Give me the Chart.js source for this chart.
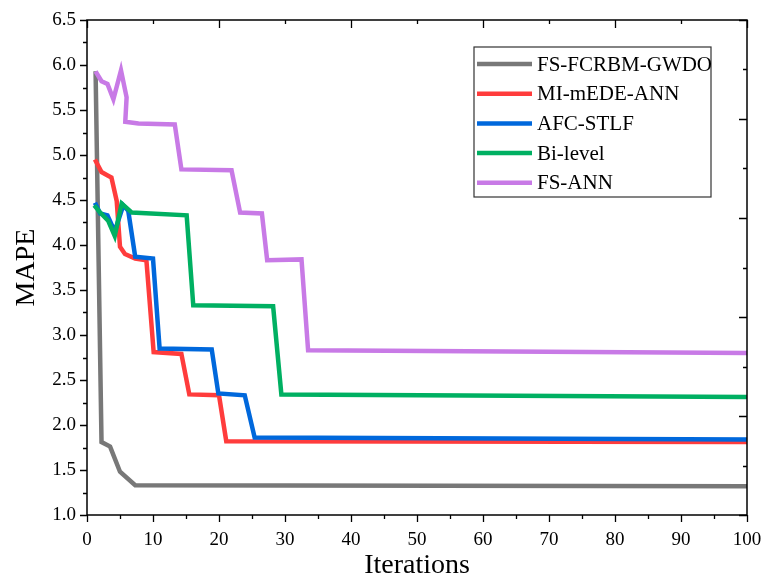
<!DOCTYPE html>
<html>
<head>
<meta charset="utf-8">
<script src="https://cdn.jsdelivr.net/npm/chart.js@4.4.1/dist/chart.umd.min.js"></script>
<style>
  html, body { margin: 0; padding: 0; background: #fff; }
  canvas { display: block; }
</style>
</head>
<body>
<canvas id="chart" width="763" height="580"></canvas>
<script>
// series names and colours, same order as the legend
const seriesNames = ['FS-FCRBM-GWDO', 'MI-mEDE-ANN', 'AFC-STLF', 'Bi-level', 'FS-ANN'];
const seriesColors = ['#787878', '#ff3c3c', '#0068dc', '#00b062', '#c87ae6'];

// values (iteration, MAPE)
const gwdoIter = [1.3, 2.2, 3.5, 5.0, 7.3, 100];
const gwdoMape = [5.93, 1.81, 1.76, 1.48, 1.33, 1.32];

const mEdeIter = [1.2, 2.2, 3.2, 3.7, 4.5, 5.0, 5.75, 7.3, 9.0, 10.1, 14.3, 15.5, 20.0, 21.1, 100];
const mEdeMape = [4.95, 4.81, 4.77, 4.75, 4.49, 3.98, 3.90, 3.85, 3.83, 2.81, 2.79, 2.34, 2.33, 1.82, 1.81];

const afcIter = [1.2, 2.0, 3.1, 4.2, 5.5, 6.25, 7.3, 10.0, 11.0, 18.9, 19.9, 23.9, 25.4, 100];
const afcMape = [4.47, 4.35, 4.33, 4.15, 4.44, 4.38, 3.87, 3.85, 2.85, 2.84, 2.35, 2.33, 1.86, 1.84];

const biIter = [1.1, 2.0, 3.2, 4.2, 5.25, 6.8, 15.1, 16.1, 28.2, 29.45, 100];
const biMape = [4.44, 4.36, 4.27, 4.10, 4.46, 4.36, 4.33, 3.33, 3.32, 2.34, 2.31];

const fsAnnIter = [1.3, 2.2, 3.1, 4.0, 5.15, 6.0, 5.8, 7.8, 13.3, 14.3, 21.9, 23.2, 26.5, 27.3, 32.5, 33.5, 100];
const fsAnnMape = [5.93, 5.82, 5.79, 5.62, 5.94, 5.64, 5.37, 5.35, 5.34, 4.84, 4.83, 4.36, 4.35, 3.83, 3.84, 2.83, 2.80];

const iterSeries = [gwdoIter, mEdeIter, afcIter, biIter, fsAnnIter];
const mapeSeries = [gwdoMape, mEdeMape, afcMape, biMape, fsAnnMape];

const xMin = 0, xMax = 100, xStep = 10;
const yMin = 1.0, yMax = 6.5, yStep = 0.5;

const serif = "'Palatino Linotype', 'Book Antiqua', Palatino, 'Liberation Serif', serif";

const toPoints = (xs, ys) => xs.map((x, i) => ({ x: x, y: ys[i] }));

// frame box + Origin style ticks (outer on left/bottom, inner on top/right)
const frameTicks = {
  id: 'frameTicks',
  afterDraw(chart) {
    const { ctx, chartArea: a, scales: { x, y } } = chart;
    ctx.save();
    ctx.strokeStyle = '#000';
    ctx.lineWidth = 1.5;
    ctx.strokeRect(a.left, a.top, a.right - a.left, a.bottom - a.top);
    ctx.lineWidth = 1.3;
    ctx.beginPath();
    for (let i = 0; i <= 20; i++) {
      const px = Math.round(x.getPixelForValue(xMin + i * 5)) + 0.5;
      const len = i % 2 === 0 ? 7 : 4;
      ctx.moveTo(px, a.bottom); ctx.lineTo(px, a.bottom + len);
    }
    for (let i = 0; i <= 10; i++) {
      const px = Math.round(x.getPixelForValue(xMin + i * 10)) + 0.5;
      const len = i % 2 === 0 ? 8 : 4;
      ctx.moveTo(px, a.top); ctx.lineTo(px, a.top + len);
    }
    for (let i = 0; i <= 22; i++) {
      const py = Math.round(y.getPixelForValue(yMin + i * 0.25)) + 0.5;
      const len = i % 2 === 0 ? 7 : 4;
      ctx.moveTo(a.left - len, py); ctx.lineTo(a.left, py);
    }
    for (let i = 0; i <= 10; i++) {
      const py = Math.round(y.getPixelForValue(yMin + i * 0.55)) + 0.5;
      const len = i % 2 === 0 ? 8 : 4;
      ctx.moveTo(a.right - len, py); ctx.lineTo(a.right, py);
    }
    ctx.stroke();
    ctx.restore();
  }
};

// boxed legend in the upper right of the plot
const boxLegend = {
  id: 'boxLegend',
  afterDraw(chart) {
    const ctx = chart.ctx;
    const left = 474, top = 47, w = 237, h = 150;
    ctx.save();
    ctx.strokeStyle = '#333';
    ctx.lineWidth = 1.2;
    ctx.strokeRect(left, top, w, h);
    ctx.font = '21px ' + serif;
    ctx.textBaseline = 'middle';
    ctx.fillStyle = '#000';
    seriesNames.forEach((name, i) => {
      const cy = 64 + i * 29.7;
      ctx.strokeStyle = seriesColors[i];
      ctx.lineWidth = 4.5;
      ctx.beginPath();
      ctx.moveTo(477, cy); ctx.lineTo(532, cy);
      ctx.stroke();
      ctx.fillText(name, 537, cy + 1);
    });
    ctx.restore();
  }
};

new Chart(document.getElementById('chart'), {
  type: 'line',
  data: {
    datasets: seriesNames.map((name, i) => ({
      label: name,
      data: toPoints(iterSeries[i], mapeSeries[i]),
      borderColor: seriesColors[i],
      backgroundColor: seriesColors[i],
      borderWidth: 4.5,
      pointRadius: 0,
      tension: 0,
      fill: false,
      order: seriesNames.length - i
    }))
  },
  options: {
    responsive: false,
    animation: false,
    layout: { padding: { top: 20, right: 16, left: 0, bottom: 0 } },
    plugins: {
      legend: { display: false },
      tooltip: { enabled: false }
    },
    scales: {
      x: {
        type: 'linear',
        min: xMin,
        max: xMax,
        grid: { display: false, drawTicks: false },
        border: { display: false },
        ticks: {
          stepSize: xStep,
          color: '#000',
          padding: 14,
          font: { family: serif, size: 19 }
        },
        title: {
          display: true,
          text: 'Iterations',
          color: '#000',
          font: { family: serif, size: 28, lineHeight: 1 },
          padding: { top: 0, bottom: 0 }
        },
        afterFit: s => { s.height = 65; s.paddingLeft = 0; s.paddingRight = 0; }
      },
      y: {
        type: 'linear',
        min: yMin,
        max: yMax,
        grid: { display: false, drawTicks: false },
        border: { display: false },
        ticks: {
          stepSize: yStep,
          color: '#000',
          padding: 11,
          font: { family: serif, size: 19 },
          callback: v => v.toFixed(1)
        },
        title: {
          display: true,
          text: 'MAPE',
          color: '#000',
          font: { family: serif, size: 28, lineHeight: 1 },
          padding: { top: 13, bottom: 0 }
        },
        afterFit: s => { s.width = 87; s.paddingTop = 0; s.paddingBottom = 0; }
      }
    }
  },
  plugins: [frameTicks, boxLegend]
});
</script>
</body>
</html>
